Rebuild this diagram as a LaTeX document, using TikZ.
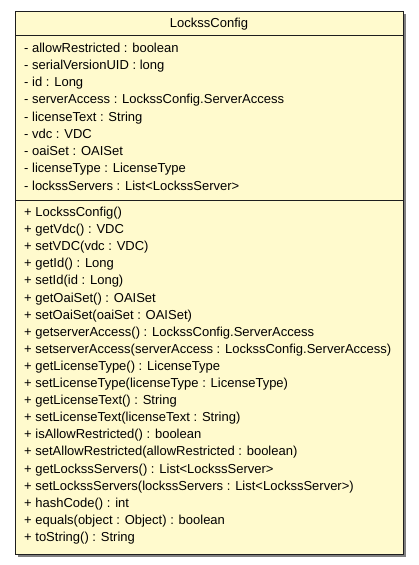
\documentclass[tikz,border=0pt]{standalone}
\usepackage{fontspec}
\setmainfont{Liberation Sans}
\usetikzlibrary{positioning}
\definecolor{classfill}{RGB}{255,250,205}
\definecolor{classline}{RGB}{30,30,30}
\definecolor{shadowgray}{RGB}{128,128,128}
\tikzset{member/.style={anchor=base west, inner sep=0pt, font=\fontsize{13}{15}\selectfont}}

\begin{document}
\begin{tikzpicture}[x=1pt,y=-1pt]
	\useasboundingbox (0,0) rectangle (419,565);
	\fill[shadowgray] (18,14) rectangle (405.5,557); % shadow
	\node[draw=classline, fill=classfill, line width=1pt, anchor=north west, minimum width=387.5pt, minimum height=543pt, inner sep=0pt] (box) at (15,11) {};
	\node[member, anchor=base] (title) at (209,27) {LockssConfig};
	\coordinate (sepA) at (15,35);
	\coordinate (sepB) at (15,200);
	\draw[classline, line width=1pt] (sepA) -- (sepA -| box.east);
	\draw[classline, line width=1pt] (sepB) -- (sepB -| box.east);
	% attributes
	\node[member] (allowRestricted) at (24,52) {- allowRestricted : boolean};
	\node[member] (serialVersionUID) at (24,69.25) {- serialVersionUID : long};
	\node[member] (id) at (24,86.5) {- id : Long};
	\node[member] (serverAccess) at (24,103.75) {- serverAccess : LockssConfig.ServerAccess};
	\node[member] (licenseText) at (24,121) {- licenseText : String};
	\node[member] (vdc) at (24,138.25) {- vdc : VDC};
	\node[member] (oaiSet) at (24,155.5) {- oaiSet : OAISet};
	\node[member] (licenseType) at (24,172.75) {- licenseType : LicenseType};
	\node[member] (lockssServers) at (24,190) {- lockssServers : List<LockssServer>};
	% operations
	\node[member] (ctor) at (24,216.5) {+ LockssConfig()};
	\node[member] (getVdc) at (24,233.6) {+ getVdc() : VDC};
	\node[member] (setVDC) at (24,250.7) {+ setVDC(vdc : VDC)};
	\node[member] (getId) at (24,267.8) {+ getId() : Long};
	\node[member] (setId) at (24,284.9) {+ setId(id : Long)};
	\node[member] (getOaiSet) at (24,302) {+ getOaiSet() : OAISet};
	\node[member] (setOaiSet) at (24,319.1) {+ setOaiSet(oaiSet : OAISet)};
	\node[member] (getserverAccess) at (24,336.2) {+ getserverAccess() : LockssConfig.ServerAccess};
	\node[member] (setserverAccess) at (24,353.3) {+ setserverAccess(serverAccess : LockssConfig.ServerAccess)};
	\node[member] (getLicenseType) at (24,370.4) {+ getLicenseType() : LicenseType};
	\node[member] (setLicenseType) at (24,387.5) {+ setLicenseType(licenseType : LicenseType)};
	\node[member] (getLicenseText) at (24,404.6) {+ getLicenseText() : String};
	\node[member] (setLicenseText) at (24,421.7) {+ setLicenseText(licenseText : String)};
	\node[member] (isAllowRestricted) at (24,438.8) {+ isAllowRestricted() : boolean};
	\node[member] (setAllowRestricted) at (24,455.9) {+ setAllowRestricted(allowRestricted : boolean)};
	\node[member] (getLockssServers) at (24,473) {+ getLockssServers() : List<LockssServer>};
	\node[member] (setLockssServers) at (24,490.1) {+ setLockssServers(lockssServers : List<LockssServer>)};
	\node[member] (hashCode) at (24,507.2) {+ hashCode() : int};
	\node[member] (equals) at (24,524.3) {+ equals(object : Object) : boolean};
	\node[member] (toString) at (24,541.4) {+ toString() : String};
\end{tikzpicture}
\end{document}
